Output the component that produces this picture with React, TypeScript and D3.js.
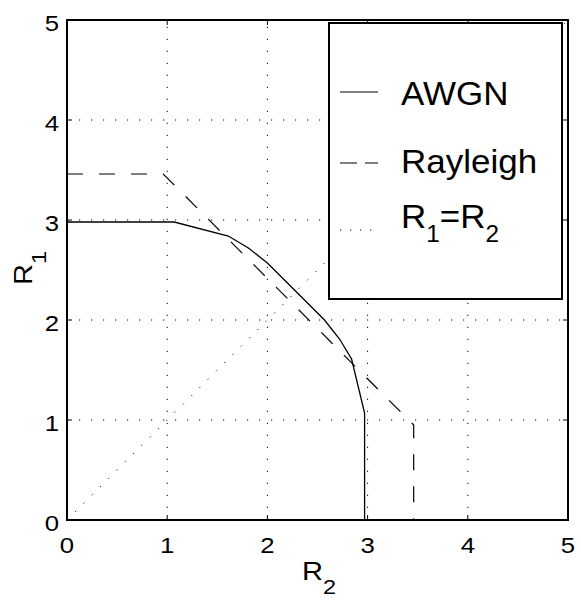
import React from "react";
import * as d3 from "d3";

const awgnR2 = [0, 1.07, 1.61, 1.81, 2.0, 2.57, 2.72, 2.84, 2.97, 2.97];
const awgnR1 = [2.98, 2.98, 2.84, 2.72, 2.57, 2.0, 1.81, 1.61, 1.07, 0];
const rayR2 = [0, 0.96, 3.46, 3.46];
const rayR1 = [3.46, 3.46, 0.95, 0];
const eqR2 = [0, 5];
const eqR1 = [0, 5];
const ticks = [0, 1, 2, 3, 4, 5];
const legendLabels = ["AWGN", "Rayleigh", "R1=R2"];

const W = 581, H = 600;
const L = 67, R = 568, T = 20, B = 520;

export default function App() {
  const x = d3.scaleLinear().domain([0, 5]).range([L, R]);
  const y = d3.scaleLinear().domain([0, 5]).range([B, T]);
  const line = d3.line<[number, number]>().x(d => x(d[0])).y(d => y(d[1]));
  const awgn = line(awgnR2.map((v, i) => [v, awgnR1[i]]))!;
  const ray = line(rayR2.map((v, i) => [v, rayR1[i]]))!;
  const eq = line(eqR2.map((v, i) => [v, eqR1[i]]))!;
  const font = "Liberation Sans, Arial, Helvetica, sans-serif";
  const lx0 = 329, ly0 = 23, lx1 = 562, ly1 = 299;
  const legY = [92, 163, 230];
  const sx = 1.12;
  const ls = 1.06;
  return (
    <svg width={W} height={H} style={{ position: "absolute", left: 0, top: 0, background: "#fff" }} fontFamily={font}>
      <rect x={0} y={0} width={W} height={H} fill="#fff" />
      {/* grid */}
      {ticks.slice(1, 5).map(t => (
        <g key={"g" + t}>
          <line x1={x(t)} x2={x(t)} y1={B} y2={T} stroke="#000" strokeWidth={1} strokeDasharray="1.2,10.8" />
          <line x1={L} x2={R} y1={y(t)} y2={y(t)} stroke="#000" strokeWidth={1} strokeDasharray="1.2,10.8" />
        </g>
      ))}
      {/* data */}
      <path d={eq} fill="none" stroke="#000" strokeWidth={1} strokeDasharray="1.2,10.5" />
      <path d={ray} fill="none" stroke="#000" strokeWidth={1.2} strokeDasharray="16,16" />
      <path d={awgn} fill="none" stroke="#000" strokeWidth={1.3} />
      {/* ticks */}
      {ticks.map(t => (
        <g key={"t" + t}>
          <line x1={x(t)} x2={x(t)} y1={B} y2={B - 5} stroke="#000" strokeWidth={1} />
          <line x1={x(t)} x2={x(t)} y1={T} y2={T + 5} stroke="#000" strokeWidth={1} />
          <line x1={L} x2={L + 5} y1={y(t)} y2={y(t)} stroke="#000" strokeWidth={1} />
          <line x1={R} x2={R - 5} y1={y(t)} y2={y(t)} stroke="#000" strokeWidth={1} />
          <text transform={`translate(${x(t)},${B + 33}) scale(${sx},1)`} fontSize={23} textAnchor="middle">{t}</text>
          <text transform={`translate(${L - 8},${y(t) + 10.5}) scale(${sx},1)`} fontSize={23} textAnchor="end">{t}</text>
        </g>
      ))}
      {/* axes box */}
      <rect x={L} y={T} width={R - L} height={B - T} fill="none" stroke="#000" strokeWidth={2} />
      {/* axis labels */}
      <text transform={`translate(302,580) scale(${sx},1)`} fontSize={26}>R<tspan fontSize={21} dy={14}>2</tspan></text>
      <text transform={`translate(32,285) rotate(-90) scale(${sx},1)`} fontSize={26}>R<tspan fontSize={21} dy={14}>1</tspan></text>
      {/* legend */}
      <rect x={lx0} y={ly0} width={lx1 - lx0} height={ly1 - ly0} fill="#fff" stroke="#000" strokeWidth={2} />
      <line x1={340} x2={378} y1={legY[0]} y2={legY[0]} stroke="#000" strokeWidth={1.2} />
      <line x1={340} x2={378} y1={legY[1]} y2={legY[1]} stroke="#000" strokeWidth={1.2} strokeDasharray="17,8" />
      <line x1={340} x2={378} y1={legY[2]} y2={legY[2]} stroke="#000" strokeWidth={1} strokeDasharray="1.2,8.8" />
      <text transform={`translate(401,${legY[0] + 13}) scale(${ls},1)`} fontSize={33}>{legendLabels[0]}</text>
      <text transform={`translate(401,${legY[1] + 10}) scale(${ls},1)`} fontSize={33}>{legendLabels[1]}</text>
      <text transform={`translate(401,${legY[2] - 2}) scale(${ls},1)`} fontSize={33}>R<tspan fontSize={23} dy={14}>1</tspan><tspan dy={-14}>=R</tspan><tspan fontSize={23} dy={14}>2</tspan></text>
    </svg>
  );
}
